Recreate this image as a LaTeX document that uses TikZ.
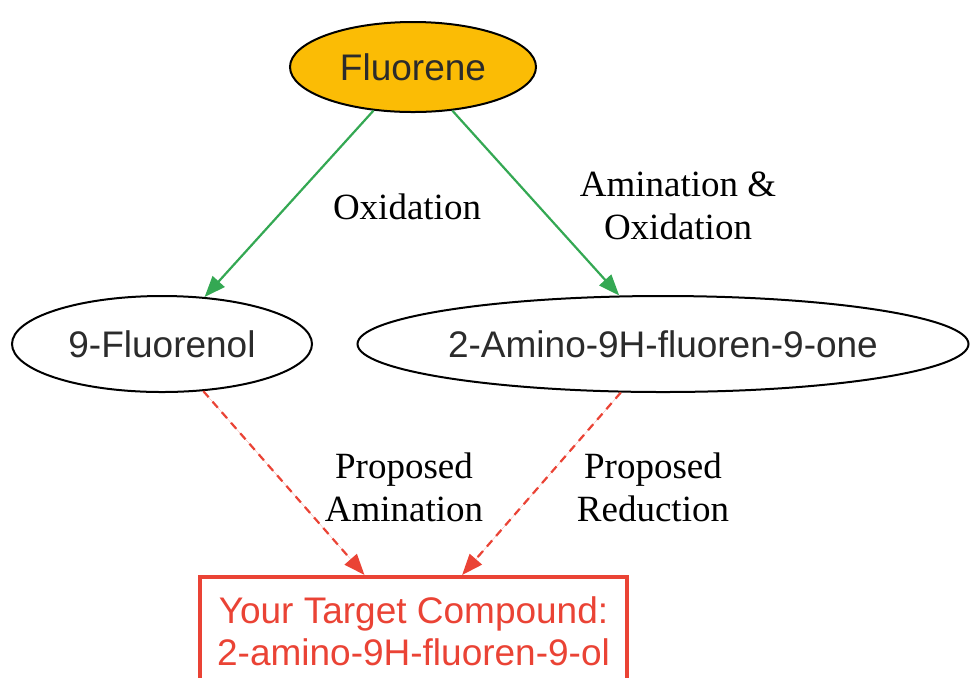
\documentclass[tikz,border=0pt]{standalone}
\usepackage{fontspec}
\setmainfont{Liberation Serif}
\newfontfamily\nodefont{Liberation Sans}
\usepackage{tikz}
\usetikzlibrary{arrows.meta,positioning,shapes.geometric}
\definecolor{RxnGold}{HTML}{FBBC05}
\definecolor{RxnGreen}{HTML}{34A853}
\definecolor{RxnRed}{HTML}{EA4335}
\definecolor{RxnInk}{HTML}{2B2B2B}
\tikzset{
  rxnlabel/.style={font=\fontsize{18.5}{21.5}\selectfont, text=black, align=center},
  rxnnode/.style={ellipse, draw=black, line width=1pt, inner sep=0pt,
    font=\nodefont\fontsize{18.5}{21.5}\selectfont, text=RxnInk},
  startnode/.style={rxnnode, fill=RxnGold},
  targetbox/.style={rectangle, draw=RxnRed, line width=2pt, inner sep=0pt, align=center,
    font=\nodefont\fontsize{18.5}{21}\selectfont, text=RxnRed},
  knownstep/.style={-{Triangle[length=10.5pt,width=8pt]}, line width=1.1pt, draw=RxnGreen, fill=RxnGreen},
  proposedstep/.style={-{Triangle[length=10.5pt,width=8pt]}, line width=1.1pt, draw=RxnRed, fill=RxnRed,
    dash pattern=on 4pt off 3pt}
}

\begin{document}
\begin{tikzpicture}[x=0.5pt, y=-0.5pt]
\useasboundingbox (0,0) rectangle (970,677);
\node[startnode, minimum width=123pt, minimum height=45pt] (fluorene) at (413,67) {Fluorene};
\node[rxnnode, minimum width=150pt, minimum height=48pt] (fluorenol) at (162,344) {9-Fluorenol};
\node[rxnnode, minimum width=305.5pt, minimum height=48pt] (aminone) at (663,344) {2-Amino-9H-fluoren-9-one};
\node[targetbox, minimum width=213.5pt, minimum height=54pt] (target) at (413.5,631) {Your Target Compound:\\2-amino-9H-fluoren-9-ol};

\draw[knownstep] (fluorene) -- (fluorenol);
\draw[knownstep] (fluorene) -- (aminone);
\draw[proposedstep] (fluorenol) -- (target);
\draw[proposedstep] (aminone) -- (target);

\node[rxnlabel] (oxlabel) at (407,207) {Oxidation};
\node[rxnlabel] (amoxlabel) at (678,206) {Amination \&\\Oxidation};
\node[rxnlabel] (amlabel) at (404,487) {Proposed\\Amination};
\node[rxnlabel] (redlabel) at (653,487) {Proposed\\Reduction};
\end{tikzpicture}
\end{document}
